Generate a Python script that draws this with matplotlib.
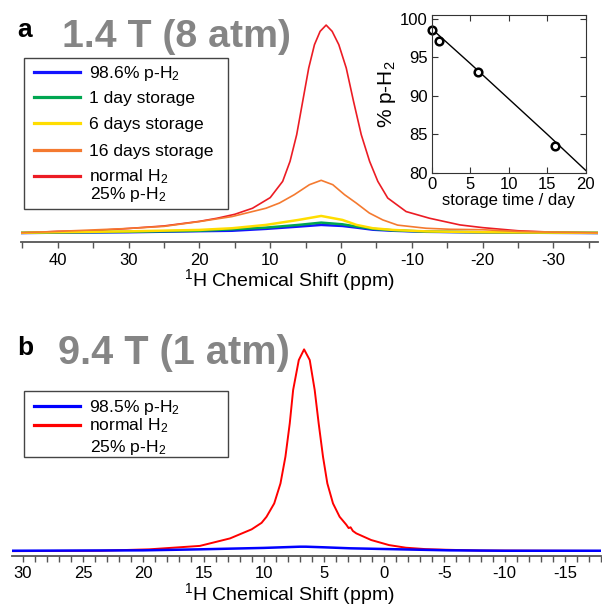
import numpy as np
import matplotlib
matplotlib.use('Agg')
import matplotlib.pyplot as plt
from matplotlib.ticker import MultipleLocator
from matplotlib.patches import Rectangle
from matplotlib.lines import Line2D

plt.rcParams['font.family'] = ['Liberation Sans', 'DejaVu Sans']
plt.rcParams['mathtext.fontset'] = 'custom'
plt.rcParams['mathtext.rm'] = 'Liberation Sans'
plt.rcParams['mathtext.it'] = 'Liberation Sans:italic'
plt.rcParams['mathtext.bf'] = 'Liberation Sans:bold'
plt.rcParams['axes.unicode_minus'] = False

# ---- panel a: 1.4 T spectra (intensity in % of normal-H2 peak) ----
ppm_red_a = [45.4, 40, 35, 30, 25, 20, 17.5, 15, 12.5, 10, 8.24, 7.2, 6.26, 5.41,
             4.56, 3.75, 2.95, 2.10, 1.25, 0.31, -0.74, -1.77, -2.86, -4.04, -5.2,
             -6.6, -9.2, -12.5, -16.8, -20, -25, -30, -36.4]
red_a = [0.2, 1.0, 1.3, 2.4, 3.6, 5.8, 7.3, 9.2, 12.1, 17.2, 25.0, 34.6, 47.4, 63.4,
         79.4, 90.6, 97, 100, 97, 90.6, 79.4, 63.4, 47.4, 34.6, 25.0,
         17.0, 10.5, 7.3, 4.1, 2.8, 1.3, 0.6, 0.2]

ppm_orange_a = [45.4, 40, 30, 25, 20, 15.4, 10.6, 8.7, 6.6, 4.46, 2.8, 1.16, -0.5,
                -2.15, -4.0, -5.9, -8, -12, -15.4, -20, -25, -30, -36.4]
orange_a = [0.3, 1.0, 2.4, 3.4, 5.7, 8.1, 12.1, 14.6, 18.6, 23.4, 25.5, 23.4, 18.6,
            14.6, 9.8, 6.5, 4.0, 2.5, 2.0, 1.8, 1.0, 0.6, 0.3]

ppm_small_a = [45.4, 40, 30, 20, 15.4, 10.6, 6, 2.8, -0.2, -2.2, -4.5, -7.3, -12,
               -20, -30, -36.4]
yellow_a = [0.3, 0.6, 1.0, 1.7, 2.5, 4.1, 6.5, 8.4, 6.5, 4.1, 2.5, 1.7, 1.0, 0.6, 0.4, 0.3]
green_a = [0.3, 0.5, 0.8, 1.3, 2.0, 2.8, 4.1, 5.2, 4.4, 3.3, 2.2, 1.5, 0.9, 0.6, 0.4, 0.3]
blue_a = [0.2, 0.4, 0.6, 1.1, 1.3, 2.2, 3.3, 4.1, 3.6, 2.8, 1.8, 1.3, 0.8, 0.5, 0.3, 0.2]

labels_a = ['98.6% p-H$_2$', '1 day storage', '6 days storage', '16 days storage',
            'normal H$_2$']
note_a = '25% p-H$_2$'

# inset: para fraction vs storage time
days = [0, 1, 6, 16]
para_pct = [98.6, 97.1, 93.1, 83.5]
fit_days = [0, 5, 10, 15, 20]
fit_pct = [98.7, 94.2, 89.6, 85.0, 80.3]

# ---- panel b: 9.4 T spectra ----
ppm_red_b = [30.9, 23.6, 19.5, 15.3, 12.8, 11.0, 10.18, 9.77, 9.13, 8.61, 8.2, 7.84,
             7.56, 7.09, 6.65, 6.18, 5.77, 5.44, 5.08, 4.72, 4.25, 3.70, 3.15, 2.95,
             2.79, 2.6, 2.32, 1.08, -0.4, -1.8, -3.45, -5.1, -8, -18]
red_b = [0.2, 0.4, 1.1, 2.8, 6.5, 11.0, 14.2, 17.2, 23.8, 33.7, 46.9, 63.4,
         79.9, 94.7, 100, 94.7, 79.9, 63.4, 46.9, 33.7, 23.8, 17.2, 13.3, 11.6,
         12.0, 10.2, 9.0, 5.7, 3.2, 1.9, 1.2, 0.9, 0.5, 0.3]
ppm_blue_b = [30.9, 20, 15.3, 10, 7, 6.5, 5, 2.8, -1.3, -5.4, -10, -18]
blue_b = [0.4, 0.6, 1.1, 1.8, 2.4, 2.4, 2.1, 1.6, 1.1, 0.6, 0.4, 0.4]

labels_b = ['98.5% p-H$_2$', 'normal H$_2$']
note_b = '25% p-H$_2$'

W, H = 602, 604
def box(x0, y0, x1, y1):
    return [x0 / W, 1 - y1 / H, (x1 - x0) / W, (y1 - y0) / H]

fig = plt.figure(figsize=(W / 100, H / 100), dpi=100)
gray = '#858585'
axcol = '#555555'

def style_spectrum(ax, major, minor, pad):
    for s in ['left', 'right', 'top']:
        ax.spines[s].set_visible(False)
    ax.spines['bottom'].set_color(axcol)
    ax.spines['bottom'].set_linewidth(1.3)
    ax.set_yticks([])
    ax.xaxis.set_major_locator(MultipleLocator(major))
    ax.xaxis.set_minor_locator(MultipleLocator(minor))
    ax.tick_params(axis='x', which='both', direction='out', length=4, width=1,
                   color=axcol, labelsize=12, pad=pad)

def draw_legend(frame, rows, handles, labels, note, note_y):
    # frame given in pixels (x0, y0, x1, y1), rows = handle y in pixels
    x0, y0, x1, y1 = frame
    fig.add_artist(Rectangle((x0 / W, 1 - y1 / H), (x1 - x0) / W, (y1 - y0) / H,
                             transform=fig.transFigure, fc='white', ec='#444444',
                             lw=1.0))
    for y, h, lab in zip(rows, handles, labels):
        fig.add_artist(Line2D([34 / W, 80 / W], [1 - y / H, 1 - y / H],
                              transform=fig.transFigure, color=h.get_color(), lw=2.3))
        fig.text(89 / W, 1 - (y + 5.7) / H, lab, fontsize=12.6, va='baseline')
    fig.text(90 / W, 1 - note_y / H, note, fontsize=12.6, va='baseline')

# panel a
ax_a = fig.add_axes(box(21, 18, 598, 242))
la_red, = ax_a.plot(ppm_red_a, red_a, color='#ec1c24', lw=1.2)
la_blue, = ax_a.plot(ppm_small_a, blue_a, color='#1414ff', lw=1.8)
la_green, = ax_a.plot(ppm_small_a, green_a, color='#00a651', lw=1.8)
la_yellow, = ax_a.plot(ppm_small_a, yellow_a, color='#ffdd00', lw=1.8)
la_orange, = ax_a.plot(ppm_orange_a, orange_a, color='#f47a30', lw=1.2)
ax_a.set_xlim(45.2, -36.3)
ax_a.set_ylim(-4.1, 103.4)
style_spectrum(ax_a, 10, 5, 4)
draw_legend((24, 58, 228, 209), [72, 97, 123, 150, 176],
            [la_blue, la_green, la_yellow, la_orange, la_red], labels_a,
            note_a, 199.5)

fig.text(17 / W, 1 - 37 / H, 'a', fontsize=19, weight='bold', va='baseline')
fig.text(62 / W, 1 - 47 / H, '1.4 T (8 atm)', fontsize=28.3, weight='bold',
         color=gray, va='baseline')
fig.text(289 / W, 1 - 286 / H, '$^{1}$H Chemical Shift (ppm)', fontsize=14,
         ha='center', va='baseline')

# inset
ins = fig.add_axes(box(431.7, 15, 585.7, 172.7))
ins.plot(fit_days, fit_pct, color='black', lw=1)
ins.plot(days, para_pct, 'o', mfc='white', mec='black', ms=5.5, mew=1.8, clip_on=False)
ins.set_xlim(0, 20)
ins.set_ylim(80, 100.5)
ins.set_xticks([0, 5, 10, 15, 20])
ins.set_yticks([80, 85, 90, 95, 100])
ins.tick_params(direction='in', top=True, right=True, length=4, labelsize=12,
                pad=3, color='#333333')
for s in ins.spines.values():
    s.set_color('#333333')
ins.set_xlabel('storage time / day', fontsize=12, labelpad=1)
ins.set_ylabel('% p-H$_2$', fontsize=15, labelpad=1)

# panel b
ax_b = fig.add_axes(box(12, 335, 601, 556))
lb_red, = ax_b.plot(ppm_red_b, red_b, color='#ff0000', lw=1.4)
lb_blue, = ax_b.plot(ppm_blue_b, blue_b, color='#0000ff', lw=1.8)
ax_b.set_xlim(30.9, -18.0)
ax_b.set_ylim(-2.2, 107.1)
style_spectrum(ax_b, 5, 1, 3.5)
draw_legend((24, 391, 228, 457), [406, 425], [lb_blue, lb_red], labels_b,
            note_b, 451.7)

fig.text(17 / W, 1 - 355 / H, 'b', fontsize=19, weight='bold', va='baseline')
fig.text(58 / W, 1 - 364 / H, '9.4 T (1 atm)', fontsize=28.6, weight='bold',
         color=gray, va='baseline')
fig.text(289 / W, 1 - 600 / H, '$^{1}$H Chemical Shift (ppm)', fontsize=14,
         ha='center', va='baseline')

fig.savefig('out.png', dpi=100)
